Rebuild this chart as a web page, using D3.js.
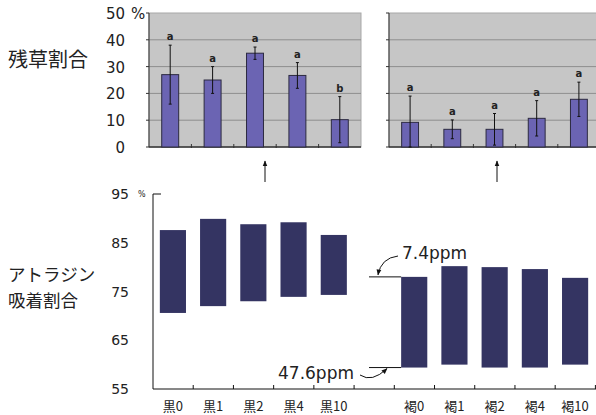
<!DOCTYPE html>
<html>
<head>
<meta charset="utf-8">
<script src="https://cdn.jsdelivr.net/npm/d3@7"></script>
<style>
  body { margin: 0; background: #fff; }
  svg { display: block; }
</style>
</head>
<body>
<svg id="chart" width="596" height="415"></svg>
<script>
// 残草割合 (top panels)
const blackCats = ["黒0", "黒1", "黒2", "黒4", "黒10"];
const brownCats = ["褐0", "褐1", "褐2", "褐4", "褐10"];
const residueBlack = [27, 25, 35, 26.7, 10.2];
const errBlack = [11, 5, 2.3, 4.8, 8.6];
const lettersBlack = ["a", "a", "a", "a", "b"];
const residueBrown = [9.2, 6.6, 6.6, 10.7, 17.8];
const errBrown = [9.8, 3.5, 5.9, 6.6, 6.4];
const lettersBrown = ["a", "a", "a", "a", "a"];
const topTicks = [0, 10, 20, 30, 40, 50];

// アトラジン吸着割合 (bottom chart)
const botCats = ["黒0", "黒1", "黒2", "黒4", "黒10", "", "褐0", "褐1", "褐2", "褐4", "褐10"];
const sorbHigh = [87.6, 89.9, 88.8, 89.2, 86.6, null, 78.0, 80.2, 80.0, 79.6, 77.8];
const sorbLow = [70.6, 72.0, 73.0, 73.9, 74.3, null, 59.4, 60.0, 59.4, 59.4, 60.0];
const botTicks = [55, 65, 75, 85, 95];

const svg = d3.select("#chart");
const numFont = "DejaVu Sans, sans-serif";
const jpFont = "Noto Sans CJK JP, sans-serif";

// ---------- top panels ----------
const yTop = d3.scaleLinear().domain([0, 50]).range([147, 13]);

function drawPanel(x0, x1, cats, vals, errs, letters, showLabels) {
    const x = d3.scaleBand().domain(cats).range([x0, x1]).paddingInner(0.6).paddingOuter(0.3);
    const g = svg.append("g");

    g.append("rect")
        .attr("x", x0).attr("y", yTop(50))
        .attr("width", x1 - x0).attr("height", yTop(0) - yTop(50))
        .attr("fill", "#c6c6c6")
        .attr("stroke", "#a8a8a8");

    g.selectAll("line.grid")
        .data(topTicks.filter(t => t > 0 && t < 50))
        .enter().append("line")
        .attr("class", "grid")
        .attr("x1", x0).attr("x2", x1)
        .attr("y1", d => yTop(d)).attr("y2", d => yTop(d))
        .attr("stroke", "#8e8e8e");

    // y axis line + ticks
    g.append("line").attr("x1", x0).attr("x2", x0).attr("y1", yTop(50)).attr("y2", yTop(0))
        .attr("stroke", "#333");
    g.selectAll("line.ytick").data(topTicks).enter().append("line")
        .attr("x1", x0 - 3).attr("x2", x0)
        .attr("y1", d => yTop(d)).attr("y2", d => yTop(d))
        .attr("stroke", "#333");

    // x axis line + ticks between categories
    g.append("line").attr("x1", x0).attr("x2", x1).attr("y1", yTop(0)).attr("y2", yTop(0))
        .attr("stroke", "#333").attr("stroke-width", 1.5);
    const step = x.step();
    g.selectAll("line.xtick").data(cats.slice(1)).enter().append("line")
        .attr("x1", d => x(d) - step * 0.3).attr("x2", d => x(d) - step * 0.3)
        .attr("y1", yTop(0) - 3).attr("y2", yTop(0) + 1)
        .attr("stroke", "#333");

    // bars
    g.selectAll("rect.bar").data(vals).enter().append("rect")
        .attr("x", (d, i) => x(cats[i]))
        .attr("y", d => yTop(d))
        .attr("width", x.bandwidth())
        .attr("height", d => yTop(0) - yTop(d))
        .attr("fill", "#6b64b3")
        .attr("stroke", "#2c2a40")
        .attr("stroke-width", 1);

    // error bars
    const cx = i => x(cats[i]) + x.bandwidth() / 2;
    vals.forEach((v, i) => {
        const hi = v + errs[i];
        const lo = Math.max(0, v - errs[i]);
        g.append("line").attr("x1", cx(i)).attr("x2", cx(i))
            .attr("y1", yTop(hi)).attr("y2", yTop(lo)).attr("stroke", "#111");
        [hi, lo].forEach(e => {
            g.append("line").attr("x1", cx(i) - 1.5).attr("x2", cx(i) + 1.5)
                .attr("y1", yTop(e)).attr("y2", yTop(e)).attr("stroke", "#111");
        });
        g.append("text")
            .attr("x", cx(i)).attr("y", yTop(hi) - 5)
            .attr("text-anchor", "middle")
            .attr("font-family", numFont).attr("font-weight", "bold")
            .attr("font-size", 10).attr("fill", "#222")
            .text(letters[i]);
    });

    if (showLabels) {
        g.selectAll("text.ylab").data(topTicks).enter().append("text")
            .attr("x", 125).attr("y", d => yTop(d) + 6)
            .attr("text-anchor", "end")
            .attr("font-family", numFont).attr("font-size", 15)
            .attr("fill", "#222")
            .text(d => d);
        g.append("text").attr("x", 131).attr("y", yTop(50) + 6)
            .attr("font-family", numFont).attr("font-size", 15).attr("fill", "#222")
            .text("%");
    }
}

drawPanel(149, 361, blackCats, residueBlack, errBlack, lettersBlack, true);
drawPanel(389, 600, brownCats, residueBrown, errBrown, lettersBrown, false);

svg.append("text").attr("x", 8).attr("y", 67)
    .attr("font-family", jpFont).attr("font-size", 20).attr("fill", "#222")
    .text("残草割合");

// arrows from bottom to top panels
svg.append("defs").append("marker")
    .attr("id", "head").attr("viewBox", "0 0 10 10")
    .attr("refX", 9).attr("refY", 5)
    .attr("markerWidth", 6).attr("markerHeight", 6)
    .attr("orient", "auto")
    .append("path").attr("d", "M0,1 L10,5 L0,9 Z").attr("fill", "#111");

[265, 497].forEach(ax => {
    svg.append("line").attr("x1", ax).attr("x2", ax).attr("y1", 182).attr("y2", 161)
        .attr("stroke", "#111").attr("marker-end", "url(#head)");
});

// ---------- bottom chart ----------
const xBot = d3.scaleBand().domain(d3.range(botCats.length)).range([153, 595]).paddingInner(0.35).paddingOuter(0.17);
const yBot = d3.scaleLinear().domain([55, 95]).range([389, 194]);

const gb = svg.append("g");

gb.append("line").attr("x1", 153).attr("x2", 153).attr("y1", yBot(95)).attr("y2", yBot(55))
    .attr("stroke", "#111");
gb.append("line").attr("x1", 153).attr("x2", 161).attr("y1", yBot(95)).attr("y2", yBot(95))
    .attr("stroke", "#111");
gb.append("line").attr("x1", 153).attr("x2", 596).attr("y1", yBot(55)).attr("y2", yBot(55))
    .attr("stroke", "#111");

const stepB = xBot.step();
gb.selectAll("line.xt").data(d3.range(1, botCats.length + 1)).enter().append("line")
    .attr("x1", d => 153 + d * stepB).attr("x2", d => 153 + d * stepB)
    .attr("y1", yBot(55) - 4).attr("y2", yBot(55))
    .attr("stroke", "#111");

gb.selectAll("text.yl").data(botTicks).enter().append("text")
    .attr("x", 129).attr("y", d => yBot(d) + 5)
    .attr("text-anchor", "end")
    .attr("font-family", numFont).attr("font-size", 14).attr("fill", "#222")
    .text(d => d);
gb.append("text").attr("x", 138).attr("y", yBot(95) + 3)
    .attr("font-family", numFont).attr("font-size", 8).attr("fill", "#222")
    .text("%");

gb.selectAll("text.xl").data(botCats).enter().append("text")
    .attr("x", (d, i) => xBot(i) + xBot.bandwidth() / 2)
    .attr("y", 411)
    .attr("text-anchor", "middle")
    .attr("font-family", jpFont).attr("font-size", 13).attr("fill", "#222")
    .text(d => d);

gb.selectAll("rect.fb").data(sorbHigh.map((h, i) => ({ h: h, l: sorbLow[i], i: i })).filter(d => d.h !== null))
    .enter().append("rect")
    .attr("x", d => xBot(d.i))
    .attr("y", d => yBot(d.h))
    .attr("width", xBot.bandwidth())
    .attr("height", d => yBot(d.l) - yBot(d.h))
    .attr("fill", "#343462");

svg.append("text").attr("x", 8).attr("y", 281)
    .attr("font-family", jpFont).attr("font-size", 17.5).attr("fill", "#222")
    .text("アトラジン");
svg.append("text").attr("x", 8).attr("y", 307)
    .attr("font-family", jpFont).attr("font-size", 17.5).attr("fill", "#222")
    .text("吸着割合");

// ppm annotations at 褐0
const annHi = yBot(sorbHigh[6]);
const annLo = yBot(sorbLow[6]);
gb.append("line").attr("x1", 369).attr("x2", xBot(6)).attr("y1", annHi).attr("y2", annHi)
    .attr("stroke", "#111");
gb.append("line").attr("x1", 369).attr("x2", xBot(6)).attr("y1", annLo).attr("y2", annLo)
    .attr("stroke", "#111");

gb.append("text").attr("x", 402).attr("y", 259)
    .attr("font-family", numFont).attr("font-size", 17).attr("fill", "#222")
    .text("7.4ppm");
gb.append("path")
    .attr("d", `M398,256 Q381,258 378,${annHi - 2}`)
    .attr("fill", "none").attr("stroke", "#111")
    .attr("marker-end", "url(#head)");

gb.append("text").attr("x", 278).attr("y", 379)
    .attr("font-family", numFont).attr("font-size", 17).attr("fill", "#222")
    .text("47.6ppm");
gb.append("path")
    .attr("d", `M360,375 Q372,383 387,${annLo + 1}`)
    .attr("fill", "none").attr("stroke", "#111")
    .attr("marker-end", "url(#head)");
</script>
</body>
</html>
